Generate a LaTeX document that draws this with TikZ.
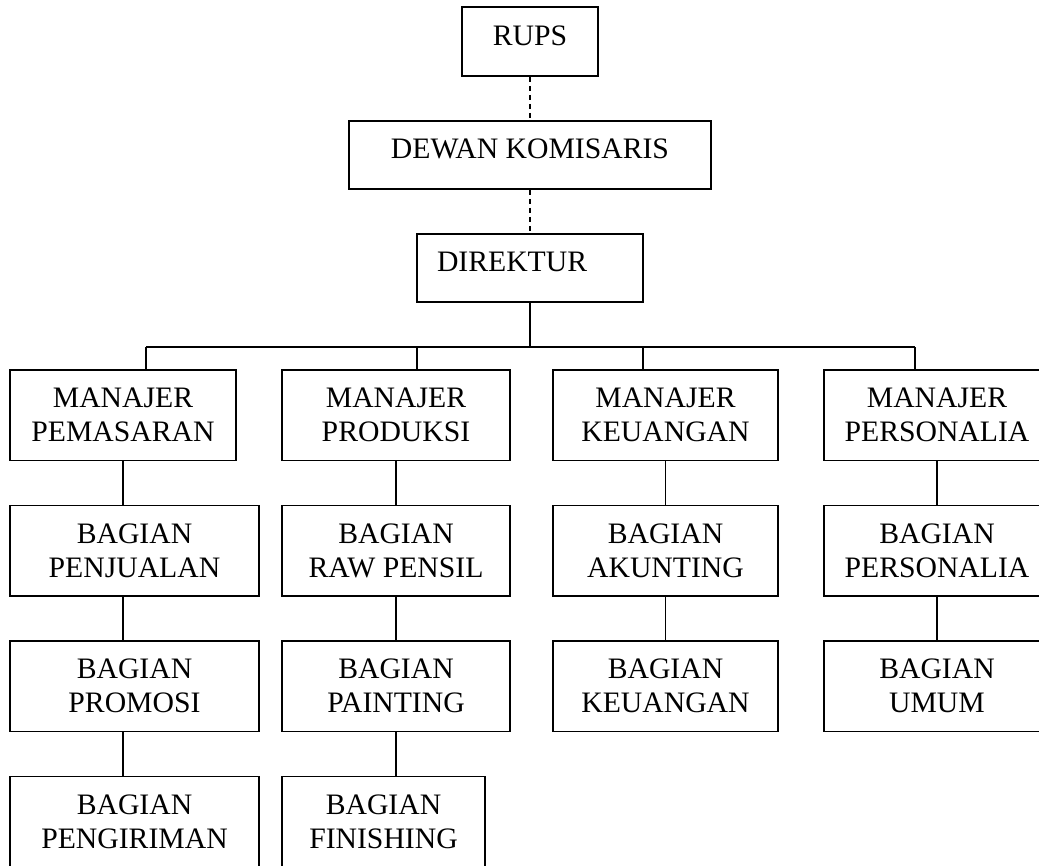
\documentclass[tikz,border=0pt]{standalone}
\usepackage{fontspec}
\setmainfont{Liberation Serif}

\begin{document}
\begin{tikzpicture}[x=1pt,y=-1pt,
		kotak/.style={draw,line width=1.5pt,inner sep=0pt,align=center,minimum height=90.5pt,font=\fontsize{29.7}{34}\selectfont},
		atas/.style={kotak,minimum height=68pt,text depth=12pt},
		garis/.style={line width=1.3pt},
		putus/.style={line width=1.3pt,dash pattern=on 5pt off 4pt}]
			\useasboundingbox (0,0) rectangle (1039,865);
			\clip (0,0) rectangle (1039,865);

			\node[atas,minimum width=136pt,minimum height=69pt] (rups) at (530,41.5) {RUPS};
			\node[atas,minimum width=362pt] (dewan) at (530,155) {DEWAN KOMISARIS};
			\node[atas,minimum width=226pt,text width=186pt,inner xsep=20pt,align=left] (direktur) at (530,268) {DIREKTUR};

			\node[kotak,minimum width=226pt] (mPemasaran) at (123,415) {MANAJER\\PEMASARAN};
			\node[kotak,minimum width=249pt] (bPenjualan) at (134.5,550.5) {BAGIAN\\PENJUALAN};
			\node[kotak,minimum width=249pt] (bPromosi) at (134.5,686) {BAGIAN\\PROMOSI};
			\node[kotak,minimum width=249pt] (bPengiriman) at (134.5,821.5) {BAGIAN\\PENGIRIMAN};

			\node[kotak,minimum width=228pt] (mProduksi) at (396,415) {MANAJER\\PRODUKSI};
			\node[kotak,minimum width=228pt] (bRaw) at (396,550.5) {BAGIAN\\RAW PENSIL};
			\node[kotak,minimum width=228pt] (bPainting) at (396,686) {BAGIAN\\PAINTING};
			\node[kotak,minimum width=203pt] (bFinishing) at (383.5,821.5) {BAGIAN\\FINISHING};

			\node[kotak,minimum width=225pt] (mKeuangan) at (665.5,415) {MANAJER\\KEUANGAN};
			\node[kotak,minimum width=225pt] (bAkunting) at (665.5,550.5) {BAGIAN\\AKUNTING};
			\node[kotak,minimum width=225pt] (bKeuangan) at (665.5,686) {BAGIAN\\KEUANGAN};

			\node[kotak,minimum width=226pt] (mPersonalia) at (937,415) {MANAJER\\PERSONALIA};
			\node[kotak,minimum width=226pt] (bPersonalia) at (937,550.5) {BAGIAN\\PERSONALIA};
			\node[kotak,minimum width=226pt] (bUmum) at (937,686) {BAGIAN\\UMUM};

			\coordinate (cab1) at (146,347);
			\coordinate (cab2) at (417,347);
			\coordinate (cab3) at (643,347);
			\coordinate (cab4) at (915,347);

			\draw[putus] (rups.south)--(dewan.north);
			\draw[putus] (dewan.south)--(direktur.north);
			\draw[garis] (direktur.south)--(direktur.south |- cab1);
			\draw[garis] (cab1)--(cab4);
			\draw[garis] (cab1)--(cab1 |- mPemasaran.north);
			\draw[garis] (cab2)--(cab2 |- mProduksi.north);
			\draw[garis] (cab3)--(cab3 |- mKeuangan.north);
			\draw[garis] (cab4)--(cab4 |- mPersonalia.north);

			\draw[garis] (mPemasaran.south)--(mPemasaran.south |- bPenjualan.north);
			\draw[garis] (mPemasaran.south |- bPenjualan.south)--(mPemasaran.south |- bPromosi.north);
			\draw[garis] (mPemasaran.south |- bPromosi.south)--(mPemasaran.south |- bPengiriman.north);

			\draw[garis] (mProduksi.south)--(bRaw.north);
			\draw[garis] (bRaw.south)--(bPainting.north);
			\draw[garis] (bPainting.south)--(bPainting.south |- bFinishing.north);

			\draw[garis] (mKeuangan.south)--(bAkunting.north);
			\draw[garis] (bAkunting.south)--(bKeuangan.north);

			\draw[garis] (mPersonalia.south)--(bPersonalia.north);
			\draw[garis] (bPersonalia.south)--(bUmum.north);
		\end{tikzpicture}
\end{document}
